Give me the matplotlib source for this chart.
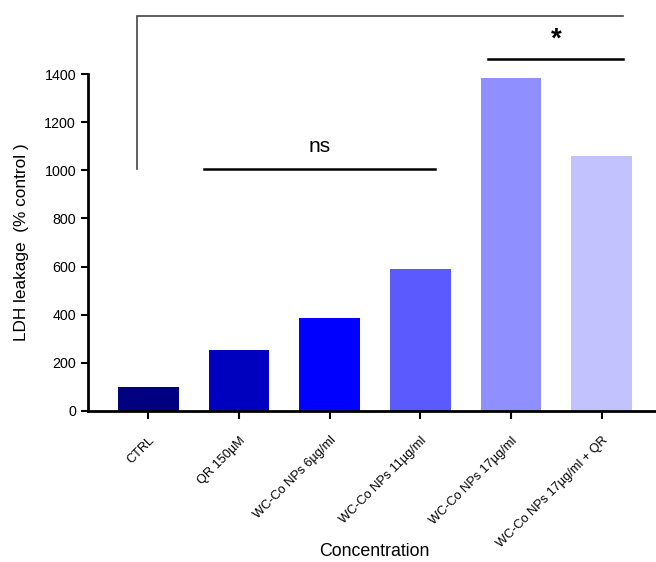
import matplotlib.pyplot as plt

plt.rcParams['font.family'] = ['Liberation Sans', 'DejaVu Sans']

# LDH leakage per treatment group
groups = ['CTRL', 'QR 150µM', 'WC-Co NPs 6µg/ml', 'WC-Co NPs 11µg/ml',
          'WC-Co NPs 17µg/ml', 'WC-Co NPs 17µg/ml + QR']
ldh = [100, 255, 388, 590, 1383, 1059]
colors = ['#000080', '#0000BF', '#0000FF', '#5A5AFF', '#8F8FFF', '#C2C2FF']
yticks = [0, 200, 400, 600, 800, 1000, 1200, 1400]

fig = plt.figure(figsize=(6.56, 5.62), dpi=100)
ax = fig.add_axes([0.134, 0.269, 0.866, 0.599])

x = list(range(len(groups)))
ax.bar(x, ldh, width=0.67, color=colors)

ax.set_xlim(-0.666, 5.6)
ax.set_ylim(0, 1400)
ax.set_yticks(yticks)
ax.set_xticks(x)
ax.set_xticklabels(groups, rotation=45, ha='right', rotation_mode='anchor', fontsize=9.2)
ax.tick_params(axis='y', labelsize=10.3, width=1.5, length=5, direction='out')
ax.tick_params(axis='x', width=1.5, length=6, direction='out', pad=11)

for s in ['top', 'right']:
    ax.spines[s].set_visible(False)
for s in ['left', 'bottom']:
    ax.spines[s].set_linewidth(2)

ax.set_ylabel('LDH leakage  (% control )', fontsize=12.4)
ax.yaxis.set_label_coords(-0.103, 0.5)
ax.set_xlabel('Concentration', fontsize=12.8, va='center')
ax.xaxis.set_label_coords(0.504, -0.418)

# significance brackets
ax.plot([-0.125, -0.125, 5.24], [1005, 1643, 1643], color='#444444', lw=1.2,
        clip_on=False, solid_joinstyle='miter')
ax.plot([0.615, 3.165], [1005, 1005], color='black', lw=1.8, clip_on=False)
ax.text(1.89, 1060, 'ns', fontsize=15, ha='center', va='bottom')
ax.plot([3.75, 5.24], [1465, 1465], color='black', lw=1.8, clip_on=False)
ax.text(4.5, 1490, '*', fontsize=20, fontweight='bold', ha='center', va='bottom')

fig.savefig('out.png', dpi=100)
